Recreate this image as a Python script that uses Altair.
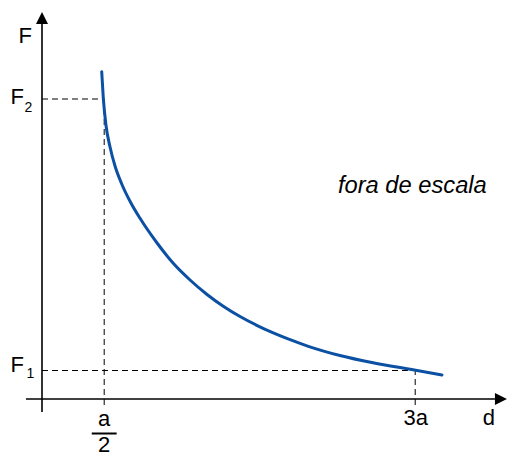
import altair as alt
import pandas as pd

# ---- data (d in units of a, F in arbitrary units) ----
D_CURVE = [0.480, 0.493, 0.514, 0.547, 0.587, 0.641, 0.715, 0.788, 0.922, 1.055,
           1.190, 1.324, 1.457, 1.592, 1.726, 1.859, 1.994, 2.141, 2.395, 2.661,
           2.982, 3.215]
F_CURVE = [3.273, 3.007, 2.74, 2.52, 2.33, 2.15, 1.96, 1.807, 1.565, 1.357,
           1.19, 1.048, 0.928, 0.825, 0.737, 0.661, 0.593, 0.527, 0.435, 0.362,
           0.292, 0.24]

D_MARKS = [0.5, 3.0]          # a/2 and 3a
F_MARKS = [3.0, 0.285]        # F2 and F1
NOTE = "fora de escala"
NOTE_POS = [2.387, 2.06]

# ---- frame geometry (data units) ----
X_DOMAIN = [-0.2733, 3.746]
Y_DOMAIN = [-0.58, 3.91]
X_AXIS = [-0.1286, 3.641]
Y_AXIS = [-0.13, 3.75]
TICK_BOTTOM = -0.06

FONT = "Liberation Sans"
BLUE = "#0B50A3"

xs = alt.Scale(domain=X_DOMAIN, nice=False, zero=False)
ys = alt.Scale(domain=Y_DOMAIN, nice=False, zero=False)


def X(f="x"):
    return alt.X(f"{f}:Q", scale=xs, axis=None)


def Y(f="y"):
    return alt.Y(f"{f}:Q", scale=ys, axis=None)


axes_df = pd.DataFrame({
    "x": [X_AXIS[0], 0.0], "x2": [X_AXIS[1], 0.0],
    "y": [0.0, Y_AXIS[0]], "y2": [0.0, Y_AXIS[1]],
})
axes = alt.Chart(axes_df).mark_rule(color="black", strokeWidth=1.6).encode(
    x=X(), x2="x2:Q", y=Y(), y2="y2:Q")

dash_df = pd.DataFrame({
    "x": [0.0, D_MARKS[0], 0.0, D_MARKS[1]],
    "x2": [D_MARKS[0], D_MARKS[0], D_MARKS[1], D_MARKS[1]],
    "y": [F_MARKS[0], TICK_BOTTOM, F_MARKS[1], TICK_BOTTOM],
    "y2": [F_MARKS[0], F_MARKS[0], F_MARKS[1], F_MARKS[1]],
})
dashes = alt.Chart(dash_df).mark_rule(color="black", strokeWidth=1, strokeDash=[6, 4]).encode(
    x=X(), x2="x2:Q", y=Y(), y2="y2:Q")

curve_df = pd.DataFrame({"x": D_CURVE, "y": F_CURVE})
curve = alt.Chart(curve_df).mark_line(color=BLUE, strokeWidth=3, strokeCap="round",
                                      interpolate="monotone").encode(x=X(), y=Y())

up_df = pd.DataFrame({"x": [0.0], "y": [Y_AXIS[1] + 0.06]})
up_arrow = alt.Chart(up_df).mark_point(shape="M0,-1L1,1L-1,1Z", size=144, filled=True,
                                       color="black", opacity=1, strokeWidth=0).encode(x=X(), y=Y())
right_df = pd.DataFrame({"x": [X_AXIS[1] + 0.0482], "y": [0.0]})
right_arrow = alt.Chart(right_df).mark_point(shape="M1,0L-1,-1L-1,1Z", size=144, filled=True,
                                             color="black", opacity=1, strokeWidth=0).encode(x=X(), y=Y())


def label(x, y, text, size, align="left", dx=0, dy=0, italic=False):
    df = pd.DataFrame({"x": [x], "y": [y], "t": [text]})
    kw = dict(font=FONT, fontSize=size, align=align, baseline="alphabetic",
              dx=dx, dy=dy, color="black")
    if italic:
        kw["fontStyle"] = "italic"
    return alt.Chart(df).mark_text(**kw).encode(x=X(), y=Y(), text="t:N")


labels = [
    label(0.0, Y_AXIS[1], "F", 22, align="right", dx=-10, dy=19),
    label(0.0, F_MARKS[0], "F", 22, dx=-31.5, dy=5),
    label(0.0, F_MARKS[0], "2", 14, dx=-17.5, dy=13),
    label(0.0, F_MARKS[1], "F", 22, dx=-31.5, dy=1.5),
    label(0.0, F_MARKS[1], "1", 14, dx=-15.5, dy=7.5),
    label(D_MARKS[0], 0.0, "a", 22, align="center", dy=27),
    label(D_MARKS[0], 0.0, "2", 22, align="center", dy=53),
    label(D_MARKS[1], 0.0, "3a", 22, align="center", dx=0.5, dy=26),
    label(X_AXIS[1], 0.0, "d", 22, align="center", dx=-6, dy=26),
    label(NOTE_POS[0], NOTE_POS[1], NOTE, 23.7, italic=True, dx=-1),
]

bar_df = pd.DataFrame({"x": [D_MARKS[0] - 0.1], "x2": [D_MARKS[0] + 0.1], "y": [-0.345]})
frac_bar = alt.Chart(bar_df).mark_rule(color="black", strokeWidth=2).encode(
    x=X(), x2="x2:Q", y=Y())

chart = alt.layer(axes, dashes, curve, up_arrow, right_arrow, frac_bar, *labels).properties(
    width=500, height=449, padding=0, autosize="none", background="white"
).configure_view(stroke=None)

chart.save("out.html", embed_options={"renderer": "svg", "actions": False})
